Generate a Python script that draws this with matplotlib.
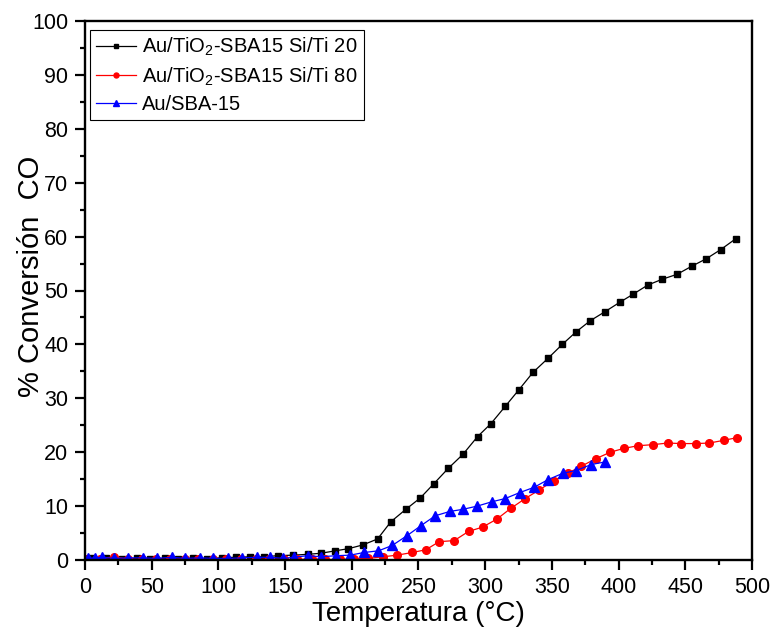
import matplotlib
matplotlib.use("Agg")
import matplotlib.pyplot as plt
from matplotlib.ticker import MultipleLocator

plt.rcParams['font.family'] = ['Liberation Sans', 'DejaVu Sans']
plt.rcParams['mathtext.fontset'] = 'custom'
plt.rcParams['mathtext.rm'] = 'Liberation Sans'
plt.rcParams['mathtext.it'] = 'Liberation Sans:italic'
plt.rcParams['mathtext.bf'] = 'Liberation Sans:bold'

# ---- data ----
labels = ['Au/TiO$_2$-SBA15 Si/Ti 20', 'Au/TiO$_2$-SBA15 Si/Ti 80', 'Au/SBA-15']

x_ti20 = [5, 16, 27.5, 38.8, 49, 60, 70, 81, 91.3, 102.5, 113.3, 123.8, 134.3, 144.5,
          155.8, 166.8, 176.8, 187.5, 197.5, 208.3, 219.3, 229.3, 240.5, 251.3, 261.3,
          272.3, 283.3, 294.3, 304.3, 315, 325, 335.8, 347, 357.8, 368, 378.8, 390,
          400.8, 410.8, 421.8, 432.8, 443.8, 454.8, 465.8, 476.6, 487.8]
y_ti20 = [0.3, 0.3, 0.2, 0.3, 0.2, 0.3, 0.2, 0.3, 0.15, 0.45, 0.5, 0.6, 0.6, 0.8,
          0.9, 1.05, 1.25, 1.7, 2.1, 2.8, 3.9, 7.1, 9.4, 11.5, 14.1,
          17.0, 19.6, 22.9, 25.3, 28.5, 31.5, 34.8, 37.4, 40.0, 42.3, 44.4, 46.1,
          47.8, 49.3, 51.0, 52.1, 53.0, 54.5, 55.9, 57.6, 59.6]

x_ti80 = [1, 11, 21.5, 32, 43, 53, 64, 75, 85, 96, 106, 117, 128, 138, 149, 159, 170,
          180, 191, 202, 212.5, 223.5, 234, 245.5, 255.5, 265.5, 276.8, 287.5, 298,
          308.8, 319.3, 330, 340.5, 351.3, 362, 372, 383, 393.8, 403.8, 414.5, 425.8,
          436.8, 447, 458, 468, 478.8, 488.8]
y_ti80 = [0.1, 0.2, 0.6, 0.2, 0.1, 0.2, 0.1, 0.2, 0.1, 0.1, 0.2, 0.1, 0.1, 0.2, 0.1,
          0.1, 0.2, 0.1, 0.1, 0.2, 0.3, 0.6, 0.9, 1.4, 1.9, 3.4, 3.6, 5.3, 6.1,
          7.6, 9.6, 11.4, 13.0, 14.7, 16.1, 17.4, 18.8, 20.0, 20.7, 21.2, 21.4,
          21.7, 21.6, 21.6, 21.7, 22.2, 22.7]

x_sba = [2.5, 7.5, 12.5, 22, 32.5, 43.7, 53.7, 65, 75, 86, 96.2, 107.5, 117.5, 128.8,
         138.8, 148.8, 156.3, 166.8, 176.8, 188.3, 198.8, 209.3, 220, 230.3, 241.3,
         252, 262.5, 273.3, 283.3, 294, 305, 315, 325.8, 336.8, 347, 358.3, 368.3,
         379.3, 390]
y_sba = [0.3, 0.4, 0.5, 0.3, 0.4, 0.4, 0.3, 0.5, 0.3, 0.4, 0.3, 0.3, 0.4, 0.5,
         0.5, 0.3, 0.5, 0.8, 0.6, 0.8, 0.9, 1.4, 1.7, 2.7, 4.5,
         6.4, 8.2, 9.0, 9.4, 10.0, 10.8, 11.4, 12.5, 13.5, 14.9, 16.1, 16.6,
         17.7, 18.2]

# ---- figure ----
fig = plt.figure(figsize=(7.72, 6.28), dpi=100)
ax = fig.add_axes([85/772, 1-560/628, 667/772, 539/628])

ax.plot(x_ti20, y_ti20, color='black', lw=0.9, marker='s', ms=5, label=labels[0])
ax.plot(x_ti80, y_ti80, color='red', lw=0.9, marker='o', ms=5.5, label=labels[1])
ax.plot(x_sba, y_sba, color='blue', lw=0.9, marker='^', ms=6.5, label=labels[2])

ax.set_xlim(0, 500)
ax.set_ylim(0, 100)
ax.xaxis.set_major_locator(MultipleLocator(50))
ax.xaxis.set_minor_locator(MultipleLocator(25))
ax.yaxis.set_major_locator(MultipleLocator(10))
ax.yaxis.set_minor_locator(MultipleLocator(5))
ax.tick_params(which='both', direction='out', width=1.6, labelsize=15.5, top=False, right=False)
ax.tick_params(which='major', length=7, pad=5)
ax.tick_params(which='minor', length=3.5)
for s in ax.spines.values():
    s.set_linewidth(1.7)

ax.set_xlabel('Temperatura (°C)', fontsize=20)
ax.xaxis.set_label_coords(0.5, -(601 - 560) / 539)
ax.set_ylabel('% Conversión  CO', fontsize=21)
ax.yaxis.set_label_coords(-(85 - 45) / 667, (560 - 276.5) / 539)

leg = ax.legend(loc='upper left', bbox_to_anchor=(5/667, 1-9/539), borderaxespad=0,
                fontsize=14.5, frameon=True, fancybox=False, framealpha=1,
                edgecolor='black', markerscale=0.65, handlelength=2.0,
                handletextpad=0.3, labelspacing=0.35, borderpad=0.3)
leg.get_frame().set_linewidth(0.8)

fig.savefig('out.png', dpi=100)
